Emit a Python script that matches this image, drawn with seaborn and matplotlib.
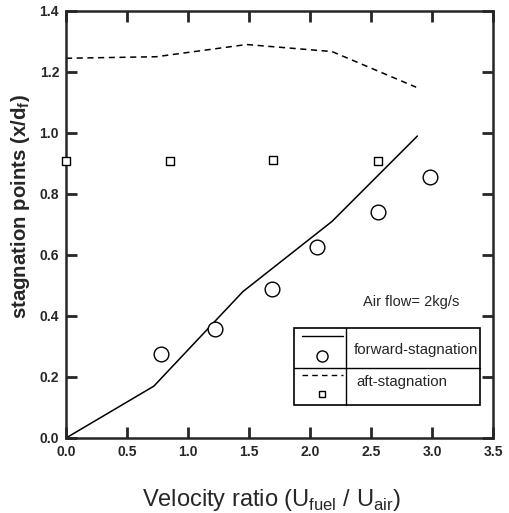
import pandas as pd
import seaborn as sns
import matplotlib.pyplot as plt
from matplotlib.patches import Rectangle
from matplotlib.lines import Line2D

# model curves
fwd_line_x = [0.0, 0.72, 1.45, 2.18, 2.88]
fwd_line_y = [0.0, 0.17, 0.48, 0.71, 0.99]
aft_line_x = [0.0, 0.74, 1.48, 2.18, 2.87]
aft_line_y = [1.245, 1.25, 1.29, 1.267, 1.15]

# measurements
fwd_pts_x = [0.78, 1.22, 1.69, 2.06, 2.56, 2.98]
fwd_pts_y = [0.275, 0.358, 0.488, 0.627, 0.741, 0.857]
aft_pts_x = [0.0, 0.85, 1.70, 2.56]
aft_pts_y = [0.907, 0.907, 0.91, 0.907]

x_ticks = [0.0, 0.5, 1.0, 1.5, 2.0, 2.5, 3.0, 3.5]
y_ticks = [0.0, 0.2, 0.4, 0.6, 0.8, 1.0, 1.2, 1.4]

sns.set_style("ticks")
plt.rcParams['font.family'] = ['Liberation Sans', 'DejaVu Sans']

fig = plt.figure(figsize=(5.09, 5.13), dpi=100)
ax = fig.add_axes([0.1297, 0.1462, 0.8389, 0.8324])

sns.lineplot(x=fwd_line_x, y=fwd_line_y, ax=ax, color='black', lw=1.1, sort=False)
sns.lineplot(x=aft_line_x, y=aft_line_y, ax=ax, color='black', lw=1.1, sort=False,
             linestyle=(0, (4, 3)))
sns.scatterplot(x=fwd_pts_x, y=fwd_pts_y, ax=ax, marker='o', s=112,
                facecolor='white', edgecolor='black', linewidth=1.0, zorder=3)
sns.scatterplot(x=aft_pts_x, y=aft_pts_y, ax=ax, marker='s', s=38,
                facecolor='white', edgecolor='black', linewidth=1.0, zorder=3,
                clip_on=False)

ax.set_xlim(0, 3.5)
ax.set_ylim(0, 1.4)
ax.set_xticks(x_ticks)
ax.set_yticks(y_ticks)
ax.set_xticklabels([f"{v:.1f}" for v in x_ticks], fontsize=10, fontweight='bold')
ax.set_yticklabels([f"{v:.1f}" for v in y_ticks], fontsize=10, fontweight='bold')
ax.tick_params(direction='in', length=8, width=2, top=True, right=True, pad=5)
for s in ax.spines.values():
    s.set_linewidth(1.8)

ax.set_xlabel(r"Velocity ratio (U$_{\mathregular{fuel}}$ / U$_{\mathregular{air}}$)",
              fontsize=17)
ax.xaxis.set_label_coords(0.482, -0.115)
ax.set_ylabel(r"stagnation points (x/d$_{\mathregular{f}}$)", fontsize=14.7,
              fontweight='bold')
ax.yaxis.set_label_coords(-0.080, 0.543)

ax.text(0.695, 0.319, "Air flow= 2kg/s", transform=ax.transAxes, fontsize=10.5,
        va='center')

# legend table
T = ax.transAxes
ax.add_patch(Rectangle((0.534, 0.077), 0.436, 0.180, transform=T, fill=False,
                       lw=1.2, color='black', zorder=4))
ax.add_line(Line2D([0.655, 0.655], [0.077, 0.257], transform=T, color='black', lw=1.0))
ax.add_line(Line2D([0.534, 0.970], [0.163, 0.163], transform=T, color='black', lw=1.0))
ax.add_line(Line2D([0.552, 0.649], [0.239, 0.239], transform=T, color='black', lw=1.0))
ax.add_line(Line2D([0.552, 0.649], [0.148, 0.148], transform=T, color='black', lw=1.0,
                   linestyle=(0, (4, 3))))
ax.plot([0.600], [0.192], transform=T, marker='o', ms=8, mfc='white', mec='black', mew=1.0)
ax.plot([0.600], [0.103], transform=T, marker='s', ms=5, mfc='white', mec='black', mew=1.0)
ax.text(0.673, 0.206, "forward-stagnation", transform=T, fontsize=10.8, va='center')
ax.text(0.679, 0.130, "aft-stagnation", transform=T, fontsize=10.8, va='center')

fig.savefig("out.png", dpi=100)
